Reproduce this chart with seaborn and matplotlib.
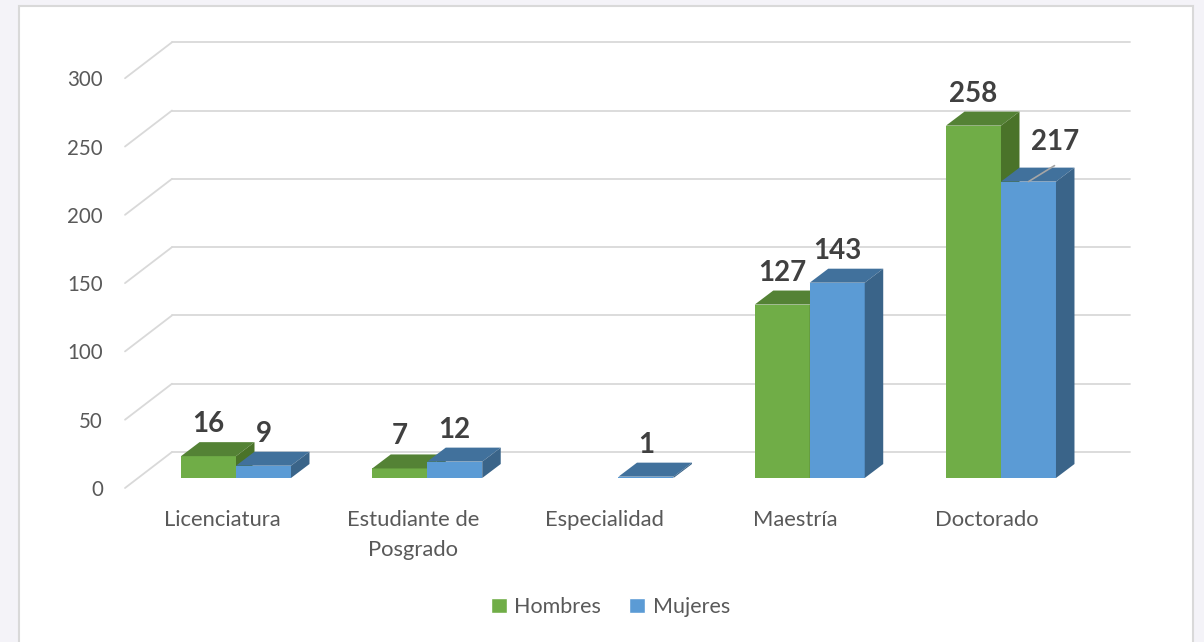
import seaborn as sns
import pandas as pd
import matplotlib.pyplot as plt
from matplotlib.patches import Polygon, Rectangle, Patch

# datos
niveles = ['Licenciatura', 'Estudiante de\nPosgrado', 'Especialidad', 'Maestría', 'Doctorado']
hombres = [16, 7, 0, 127, 258]
mujeres = [9, 12, 1, 143, 217]
ticks = [0, 50, 100, 150, 200, 250, 300]

verde = '#70AD47'
azul = '#5B9BD5'
caras = {0: ('#548235', '#4A7329'), 1: ('#41719C', '#3A6489')}  # (tapa, lado)

df = pd.DataFrame({
    'nivel': niveles * 2,
    'sexo': ['Hombres'] * 5 + ['Mujeres'] * 5,
    'n': hombres + mujeres,
})

sns.set_style('white')
plt.rcParams['font.family'] = ['Lato', 'DejaVu Sans']

fig = plt.figure(figsize=(12.04, 6.42), dpi=100)
fig.patch.set_facecolor('#F4F3F8')
# marco blanco del grafico
fig.patches.append(Rectangle((19 / 1204, -0.05), (1193 - 19) / 1204, (636 / 642) + 0.05,
                             transform=fig.transFigure, facecolor='white',
                             edgecolor='#D9D9D9', lw=1.5, zorder=0))

ax = fig.add_axes([125 / 1204, 142 / 642, 1010 / 1204, 470 / 642])
ax.set_facecolor('none')
ax.set_zorder(2)

sns.barplot(data=df, x='nivel', y='n', hue='sexo', palette=[verde, azul],
            width=0.575, saturation=1, ax=ax, legend=False, edgecolor='none')

ax.set_xlim(-0.5804, 4.7007)
ax.set_ylim(-16.1, 328.0)

# profundidad 3D (en unidades de datos)
px_x = 191.25   # px por categoria
px_y = 1.366    # px por unidad
dx = 18.5 / px_x
dy = 14 / px_y
back_dy = 26 / px_y
front_drop = 10 / px_y
back_x = (172 - 236) / px_x

# rejilla con perspectiva
for v in ticks:
    ax.plot([back_x, 4.675], [v + back_dy, v + back_dy], color='#D9D9D9', lw=1.3, zorder=0.5,
            clip_on=False)
    ax.plot([-0.5804, back_x], [v - front_drop, v + back_dy], color='#D9D9D9', lw=1.3,
            zorder=0.5, clip_on=False)

# caras superior y lateral de las barras
for k, cont in enumerate(ax.containers):
    tapa, lado = caras[k]
    for bar in cont:
        bar.set_zorder(2 + k)
        h = bar.get_height()
        if h <= 0:
            continue
        x0 = bar.get_x()
        w = bar.get_width()
        top = Polygon([(x0, h), (x0 + w, h), (x0 + w + dx, h + dy), (x0 + dx, h + dy)],
                      closed=True, facecolor=tapa, edgecolor='none', zorder=2.1 + k)
        side = Polygon([(x0 + w, 0), (x0 + w + dx, dy), (x0 + w + dx, h + dy), (x0 + w, h)],
                       closed=True, facecolor=lado, edgecolor='none', zorder=2.1 + k)
        ax.add_patch(top)
        ax.add_patch(side)

        cx = x0 + w / 2
        ly = h + dy + 5 / px_y
        if k == 1 and h == max(mujeres) and h < max(hombres):
            # etiqueta desplazada con linea guia
            lx = cx + 27 / px_x
            ax.plot([cx, cx + 26 / px_x], [h, h + 16 / px_y], color='#A6A6A6', lw=1.2,
                    zorder=5)
            ax.text(lx, ly + 8 / px_y, str(int(h)), ha='center', va='bottom', fontsize=20,
                    fontweight='bold', color='#404040', zorder=6)
        else:
            ax.text(cx, ly, str(int(h)), ha='center', va='bottom', fontsize=20,
                    fontweight='bold', color='#404040', zorder=6)

# ejes
ax.set_yticks([t - front_drop for t in ticks], labels=[str(t) for t in ticks])
ax.tick_params(axis='y', length=0, pad=16, labelsize=14.8, labelcolor='#595959')
ax.set_xticks([])
ax.set_xlabel('')
ax.set_ylabel('')
for i, lab in enumerate(niveles):
    ax.text(i - 14 / px_x, -32 / px_y, lab, ha='center', va='top', fontsize=15.8,
            color='#595959', linespacing=1.65, clip_on=False)
sns.despine(ax=ax, left=True, bottom=True)

handles = [Patch(facecolor=verde, label='Hombres'), Patch(facecolor=azul, label='Mujeres')]
fig.legend(handles=handles, loc='center', bbox_to_anchor=(0.507, 0.0545), ncol=2,
           frameon=False, handlelength=0.75, handleheight=0.75, handletextpad=0.35,
           columnspacing=1.3, fontsize=15.5, labelcolor='#595959')

fig.savefig('out.png', dpi=100, facecolor=fig.get_facecolor())
